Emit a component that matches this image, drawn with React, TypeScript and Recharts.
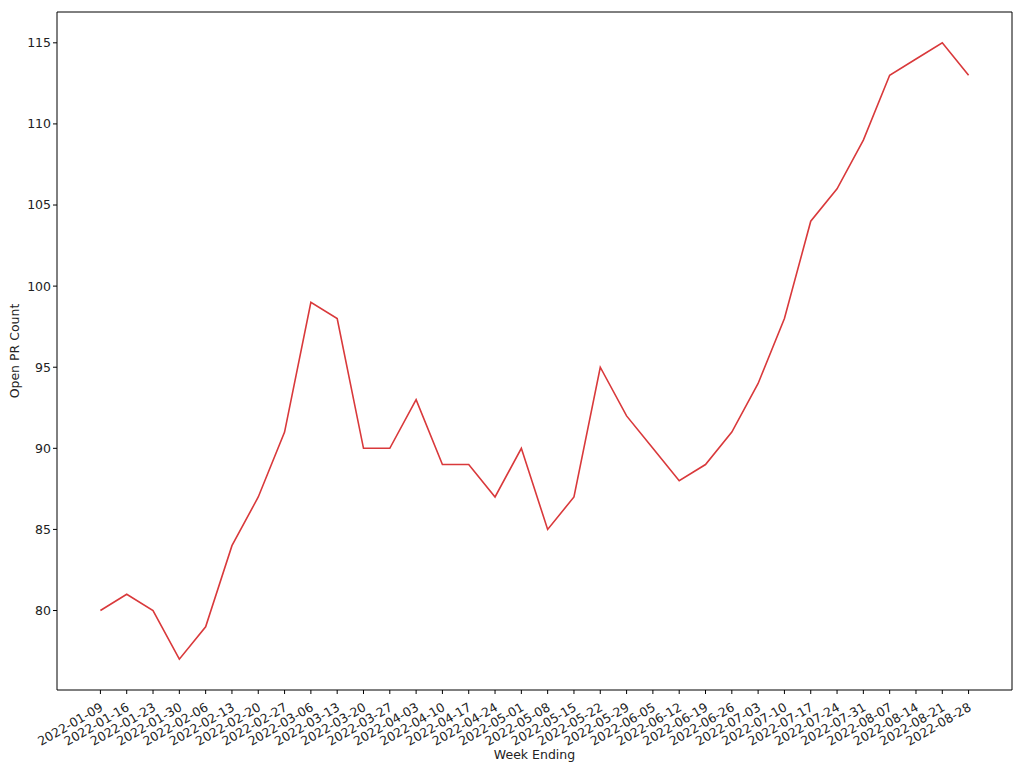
import React from "react";
import {
  LineChart,
  Line,
  XAxis,
  YAxis,
  ReferenceLine,
} from "recharts";

// 週末日付ラベル
const weekLabels = [
  "2022-01-09", "2022-01-16", "2022-01-23", "2022-01-30", "2022-02-06",
  "2022-02-13", "2022-02-20", "2022-02-27", "2022-03-06", "2022-03-13",
  "2022-03-20", "2022-03-27", "2022-04-03", "2022-04-10", "2022-04-17",
  "2022-04-24", "2022-05-01", "2022-05-08", "2022-05-15", "2022-05-22",
  "2022-05-29", "2022-06-05", "2022-06-12", "2022-06-19", "2022-06-26",
  "2022-07-03", "2022-07-10", "2022-07-17", "2022-07-24", "2022-07-31",
  "2022-08-07", "2022-08-14", "2022-08-21", "2022-08-28",
];

const openPrCounts = [
  80, 81, 80, 77, 79, 84, 87, 91, 99, 98,
  90, 90, 93, 89, 89, 87, 90, 85, 87, 95,
  92, 90, 88, 89, 91, 94, 98, 104, 106, 109,
  113, 114, 115, 113,
];

const yTicks = [80, 85, 90, 95, 100, 105, 110, 115];

const data = openPrCounts.map((v, i) => ({ idx: i, count: v }));
const xTicks = weekLabels.map((_, i) => i);

const FONT = "DejaVu Sans, sans-serif";

const DateTick = (props: any) => {
  const { x, y, payload } = props;
  return (
    <g transform={`translate(${x - 1},${y + 6})`}>
      <text
        textAnchor="end"
        dy="0.72em"
        transform="rotate(-30)"
        fontSize={12.5}
        fontFamily={FONT}
        fill="#222"
      >
        {weekLabels[payload.value]}
      </text>
    </g>
  );
};

const App: React.FC = () => {
  const n = weekLabels.length - 1;
  const pad = n * 0.05;
  const yMin = Math.min(...openPrCounts);
  const yMax = Math.max(...openPrCounts);
  const yPad = (yMax - yMin) * 0.05;

  return (
    <div style={{ position: "absolute", left: 0, top: 0, background: "#fff" }}>
      <LineChart
        width={1024}
        height={768}
        data={data}
        margin={{ top: 12, right: 12, left: 0, bottom: 0 }}
      >
        <XAxis
          dataKey="idx"
          type="number"
          domain={[-pad, n + pad]}
          ticks={xTicks}
          interval={0}
          allowDataOverflow
          height={78}
          tick={<DateTick />}
          tickSize={4}
          tickLine={{ stroke: "#000" }}
          axisLine={{ stroke: "#000" }}
          label={{
            value: "Week Ending",
            position: "insideBottom",
            offset: 9,
            fontSize: 12.5,
            fontFamily: FONT,
            fill: "#222",
          }}
        />
        <YAxis
          type="number"
          domain={[yMin - yPad, yMax + yPad]}
          ticks={yTicks}
          allowDataOverflow
          width={57}
          tickSize={4}
          tickLine={{ stroke: "#000" }}
          axisLine={{ stroke: "#000" }}
          tick={{ fontSize: 12.5, fontFamily: FONT, fill: "#222" }}
          label={{
            value: "Open PR Count",
            angle: -90,
            position: "insideLeft",
            offset: 15,
            style: { textAnchor: "middle" },
            fontSize: 12.5,
            fontFamily: FONT,
            fill: "#222",
          }}
        />
        <ReferenceLine x={n + pad} stroke="#000" />
        <ReferenceLine y={yMax + yPad} stroke="#000" />
        <Line
          type="linear"
          dataKey="count"
          stroke="#d9393b"
          strokeWidth={1.6}
          dot={false}
          activeDot={false}
          isAnimationActive={false}
        />
      </LineChart>
    </div>
  );
};

export default App;
